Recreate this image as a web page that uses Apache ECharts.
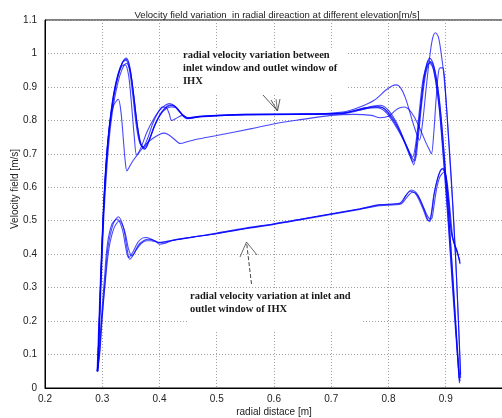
<!DOCTYPE html>
<html>
<head>
<meta charset="utf-8">
<script src="https://cdn.jsdelivr.net/npm/echarts@6/dist/echarts.min.js"></script>
<style>
  html, body { margin: 0; padding: 0; background: #ffffff; }
  #chart { width: 502px; height: 418px; }
</style>
</head>
<body>
<div id="chart"></div>
<script>
// Radial velocity profiles, [radial distance (m), velocity (m/s)]
// Upper group: between the inlet and outlet windows of the IHX
const upper1 = [[0.292,0.05],[0.297,0.30],[0.302,0.52],[0.307,0.68],[0.313,0.79],[0.320,0.88],[0.328,0.94],[0.336,0.975],[0.342,0.986],[0.348,0.96],[0.354,0.89],[0.360,0.80],[0.366,0.735],[0.372,0.717],[0.380,0.735],[0.390,0.78],[0.400,0.815],[0.410,0.838],[0.418,0.846],[0.426,0.843],[0.436,0.825],[0.447,0.805],[0.46,0.808],[0.48,0.813],[0.52,0.816],[0.6,0.817],[0.68,0.818],[0.72,0.82],[0.75,0.83],[0.775,0.84],[0.79,0.838],[0.80,0.82],[0.81,0.795],[0.82,0.765],[0.83,0.725],[0.838,0.69],[0.844,0.667],[0.850,0.74],[0.856,0.84],[0.862,0.93],[0.867,0.97],[0.872,0.986],[0.878,0.97],[0.884,0.92],[0.890,0.84],[0.897,0.70],[0.905,0.52],[0.912,0.34],[0.918,0.17],[0.924,0.014]];
const upper2 = [[0.293,0.06],[0.298,0.31],[0.303,0.52],[0.309,0.68],[0.315,0.79],[0.322,0.87],[0.330,0.93],[0.338,0.965],[0.343,0.97],[0.349,0.945],[0.355,0.875],[0.361,0.79],[0.367,0.73],[0.374,0.713],[0.382,0.74],[0.392,0.785],[0.402,0.818],[0.412,0.835],[0.42,0.84],[0.428,0.838],[0.437,0.822],[0.448,0.808],[0.47,0.812],[0.55,0.818],[0.65,0.818],[0.72,0.822],[0.76,0.838],[0.785,0.845],[0.80,0.83],[0.815,0.79],[0.83,0.73],[0.84,0.69],[0.846,0.68],[0.852,0.75],[0.858,0.85],[0.864,0.93],[0.869,0.965],[0.874,0.975],[0.880,0.955],[0.886,0.90],[0.892,0.81],[0.899,0.66],[0.907,0.47],[0.914,0.29],[0.920,0.13],[0.925,0.02]];
const upper3 = [[0.292,0.05],[0.297,0.30],[0.302,0.51],[0.307,0.66],[0.313,0.78],[0.320,0.87],[0.327,0.93],[0.334,0.962],[0.340,0.966],[0.346,0.935],[0.351,0.85],[0.356,0.75],[0.360,0.697],[0.368,0.72],[0.378,0.765],[0.39,0.805],[0.40,0.83],[0.41,0.845],[0.417,0.85],[0.425,0.845],[0.433,0.83],[0.442,0.812],[0.45,0.805],[0.47,0.81],[0.55,0.817],[0.65,0.818],[0.72,0.825],[0.75,0.84],[0.775,0.86],[0.795,0.89],[0.806,0.903],[0.814,0.906],[0.822,0.895],[0.830,0.865],[0.838,0.82],[0.846,0.775],[0.854,0.741],[0.860,0.80],[0.866,0.90],[0.872,0.99],[0.877,1.045],[0.882,1.062],[0.887,1.05],[0.892,1.0],[0.897,0.93],[0.903,0.80],[0.91,0.62],[0.917,0.40],[0.922,0.20],[0.926,0.03]];
const upper4 = [[0.292,0.05],[0.297,0.30],[0.302,0.52],[0.308,0.70],[0.314,0.80],[0.320,0.845],[0.328,0.863],[0.333,0.82],[0.337,0.74],[0.340,0.68],[0.343,0.649],[0.348,0.663],[0.354,0.68],[0.365,0.705],[0.378,0.732],[0.39,0.748],[0.40,0.758],[0.407,0.762],[0.415,0.758],[0.425,0.745],[0.436,0.731],[0.45,0.737],[0.47,0.745],[0.5,0.755],[0.563,0.776],[0.61,0.793],[0.65,0.803],[0.7,0.815],[0.74,0.818],[0.77,0.815],[0.785,0.808],[0.80,0.812],[0.812,0.83],[0.82,0.838],[0.828,0.84],[0.836,0.832],[0.845,0.81],[0.855,0.775],[0.865,0.735],[0.872,0.71],[0.875,0.70],[0.879,0.76],[0.883,0.86],[0.887,0.94],[0.890,0.957],[0.895,0.957],[0.899,0.90],[0.905,0.74],[0.912,0.55],[0.918,0.36],[0.923,0.17],[0.926,0.04]];
const upper5 = [[0.291,0.05],[0.296,0.29],[0.301,0.50],[0.306,0.66],[0.312,0.78],[0.319,0.87],[0.327,0.935],[0.335,0.972],[0.341,0.98],[0.347,0.955],[0.353,0.88],[0.359,0.79],[0.365,0.735],[0.371,0.72],[0.379,0.745],[0.388,0.79],[0.398,0.825],[0.405,0.84],[0.412,0.838],[0.417,0.82],[0.421,0.80],[0.428,0.805],[0.44,0.815],[0.45,0.808],[0.47,0.812],[0.55,0.818],[0.65,0.82],[0.72,0.822],[0.76,0.835],[0.78,0.838],[0.795,0.825],[0.81,0.79],[0.825,0.745],[0.836,0.705],[0.843,0.675],[0.849,0.73],[0.855,0.82],[0.861,0.91],[0.866,0.955],[0.871,0.972],[0.877,0.96],[0.883,0.91],[0.889,0.83],[0.896,0.68],[0.904,0.50],[0.911,0.32],[0.918,0.15],[0.924,0.02]];
const upper6 = [[0.292,0.05],[0.297,0.31],[0.302,0.53],[0.308,0.69],[0.314,0.80],[0.321,0.88],[0.329,0.94],[0.337,0.978],[0.343,0.982],[0.349,0.95],[0.355,0.87],[0.361,0.785],[0.368,0.728],[0.375,0.716],[0.383,0.745],[0.393,0.79],[0.403,0.822],[0.413,0.84],[0.421,0.844],[0.43,0.838],[0.44,0.818],[0.45,0.806],[0.47,0.811],[0.55,0.817],[0.65,0.818],[0.72,0.821],[0.755,0.835],[0.78,0.842],[0.795,0.832],[0.81,0.80],[0.822,0.76],[0.834,0.715],[0.842,0.69],[0.848,0.735],[0.854,0.83],[0.860,0.92],[0.866,0.96],[0.870,0.978],[0.876,0.968],[0.882,0.925],[0.888,0.85],[0.895,0.72],[0.903,0.54],[0.91,0.36],[0.917,0.19],[0.923,0.03]];

// Lower group: at the inlet and outlet windows of the IHX
const lower1 = [[0.291,0.049],[0.295,0.10],[0.299,0.20],[0.305,0.32],[0.310,0.42],[0.319,0.49],[0.328,0.512],[0.337,0.48],[0.343,0.42],[0.348,0.385],[0.355,0.40],[0.363,0.427],[0.372,0.44],[0.38,0.445],[0.392,0.44],[0.40,0.43],[0.41,0.433],[0.424,0.442],[0.453,0.45],[0.5,0.462],[0.55,0.477],[0.6,0.49],[0.65,0.505],[0.7,0.52],[0.75,0.535],[0.785,0.547],[0.822,0.552],[0.83,0.575],[0.84,0.592],[0.848,0.585],[0.856,0.56],[0.863,0.53],[0.868,0.505],[0.872,0.497],[0.876,0.53],[0.880,0.582],[0.886,0.627],[0.891,0.65],[0.895,0.657],[0.90,0.637],[0.905,0.56],[0.91,0.463],[0.915,0.43],[0.919,0.413],[0.925,0.373]];
const lower2 = [[0.292,0.05],[0.296,0.11],[0.300,0.21],[0.306,0.33],[0.312,0.42],[0.321,0.48],[0.330,0.50],[0.339,0.47],[0.346,0.415],[0.352,0.395],[0.359,0.412],[0.368,0.432],[0.377,0.44],[0.385,0.44],[0.395,0.437],[0.405,0.435],[0.415,0.438],[0.43,0.443],[0.46,0.451],[0.5,0.461],[0.55,0.476],[0.6,0.489],[0.65,0.504],[0.7,0.519],[0.75,0.534],[0.785,0.545],[0.822,0.55],[0.832,0.57],[0.842,0.585],[0.85,0.578],[0.858,0.553],[0.865,0.525],[0.871,0.507],[0.875,0.505],[0.879,0.54],[0.884,0.595],[0.890,0.632],[0.897,0.645],[0.902,0.62],[0.907,0.54],[0.912,0.455],[0.917,0.42],[0.925,0.38]];
const lower3 = [[0.291,0.05],[0.295,0.12],[0.299,0.22],[0.304,0.33],[0.309,0.43],[0.317,0.49],[0.326,0.505],[0.335,0.475],[0.341,0.42],[0.346,0.39],[0.353,0.405],[0.362,0.435],[0.370,0.448],[0.378,0.45],[0.388,0.443],[0.398,0.435],[0.408,0.437],[0.42,0.441],[0.45,0.449],[0.5,0.463],[0.55,0.478],[0.6,0.491],[0.65,0.506],[0.7,0.521],[0.75,0.536],[0.785,0.548],[0.82,0.553],[0.829,0.572],[0.838,0.588],[0.846,0.583],[0.854,0.56],[0.862,0.528],[0.867,0.505],[0.871,0.50],[0.875,0.525],[0.879,0.575],[0.885,0.622],[0.890,0.648],[0.894,0.655],[0.899,0.64],[0.904,0.57],[0.909,0.475],[0.914,0.435],[0.92,0.41],[0.925,0.37]];

const profiles = [upper1, upper2, upper3, upper4, upper5, upper6, lower1, lower2, lower3];

// Axis ranges and tick spacing
const xRange = [0.2, 1.0];
const yRange = [0, 1.1];
const tickStep = 0.1;

const titleText = 'Velocity field variation  in radial direaction at different elevation[m/s]';
const xName = 'radial distace [m]';
const yName = 'Velocity field [m/s]';
const noteUpper = ['radial velocity variation between', 'inlet window and outlet window of', 'IHX'];
const noteLower = ['radial velocity variation at inlet and', 'outlet window of IHX'];

const uiFont = '"Liberation Sans", Arial, sans-serif';
const noteFont = 'bold 10.5px "Liberation Serif", "Times New Roman", serif';

const chart = echarts.init(document.getElementById('chart'), null, { renderer: 'canvas' });

const dotted = { show: true, lineStyle: { color: '#a0a0a0', width: 1, type: [1, 2] } };
const tickFmt = v => String(Math.round(v * 10) / 10);

const series = profiles.map(p => ({
  type: 'line',
  data: p,
  showSymbol: false,
  smooth: 0.3,
  clip: true,
  lineStyle: { color: '#0000ff', width: 1.1, opacity: 0.72 },
  emphasis: { disabled: true },
  z: 3
}));

// Annotation blocks (white box behind the text hides the dotted grid)
function noteGraphic(x, y, w, h, lines, lineH) {
  const items = [{
    type: 'rect', shape: { x: x, y: y, width: w, height: h },
    style: { fill: '#ffffff' }, z: 10, silent: true
  }];
  lines.forEach((t, i) => items.push({
    type: 'text', x: x + 3, y: y + 6 + i * lineH, z: 11, silent: true,
    style: { text: t, font: noteFont, fill: '#1a1a1a', textVerticalAlign: 'middle' }
  }));
  return items;
}

const graphics = []
  .concat(noteGraphic(180, 49, 166, 45, noteUpper, 13.3))
  .concat(noteGraphic(187, 290, 176, 40, noteLower, 13))
  .concat([
    // arrow pointing to the upper group
    { type: 'polyline', z: 12, shape: { points: [[263, 95], [277.5, 111]] }, style: { stroke: '#333', lineWidth: 0.8, fill: null } },
    { type: 'polyline', z: 12, shape: { points: [[271, 100], [277.5, 111], [280, 99]] }, style: { stroke: '#333', lineWidth: 0.8, fill: null } },
    { type: 'polyline', z: 12, shape: { points: [[276, 99], [277.5, 111]] }, style: { stroke: '#555', lineWidth: 0.8, fill: null } },
    // arrow pointing to the lower group
    { type: 'polyline', z: 12, shape: { points: [[251.5, 284], [246.5, 242]] }, style: { stroke: '#444', lineWidth: 1, lineDash: [4, 2], fill: null } },
    { type: 'polyline', z: 12, shape: { points: [[240, 257], [246.5, 242], [257, 255]] }, style: { stroke: '#444', lineWidth: 0.8, fill: null } }
  ]);

chart.setOption({
  animation: false,
  backgroundColor: '#ffffff',
  title: {
    text: titleText,
    left: 272, top: 5, textAlign: 'center',
    textStyle: { fontSize: 9.6, fontWeight: 'normal', color: '#222', fontFamily: uiFont }
  },
  grid: {
    left: 45, top: 20, width: 458, height: 368,
    outerBoundsMode: 'none', containLabel: false,
    show: true, borderColor: '#000', borderWidth: 1, backgroundColor: 'transparent'
  },
  xAxis: {
    type: 'value', min: xRange[0], max: xRange[1], interval: tickStep,
    name: xName, nameLocation: 'middle', nameGap: 19, nameMoveOverlap: false,
    nameTextStyle: { fontSize: 10, color: '#222', fontFamily: uiFont },
    axisLine: { show: true, onZero: false, lineStyle: { color: '#000', width: 1 } },
    axisTick: { show: false },
    axisLabel: { fontSize: 10, color: '#222', fontFamily: uiFont, margin: 6, showMaxLabel: false, formatter: tickFmt },
    splitLine: dotted
  },
  yAxis: {
    type: 'value', min: yRange[0], max: yRange[1], interval: tickStep,
    name: yName, nameLocation: 'middle', nameGap: 25, nameRotate: 90, nameMoveOverlap: false,
    nameTextStyle: { fontSize: 10, color: '#222', fontFamily: uiFont, padding: [0, 0, 0, 30] },
    axisLine: { show: true, lineStyle: { color: '#000', width: 1 } },
    axisTick: { show: false },
    axisLabel: { fontSize: 10, color: '#222', fontFamily: uiFont, margin: 8, formatter: tickFmt },
    splitLine: dotted
  },
  series: series,
  graphic: graphics
});
</script>
</body>
</html>
